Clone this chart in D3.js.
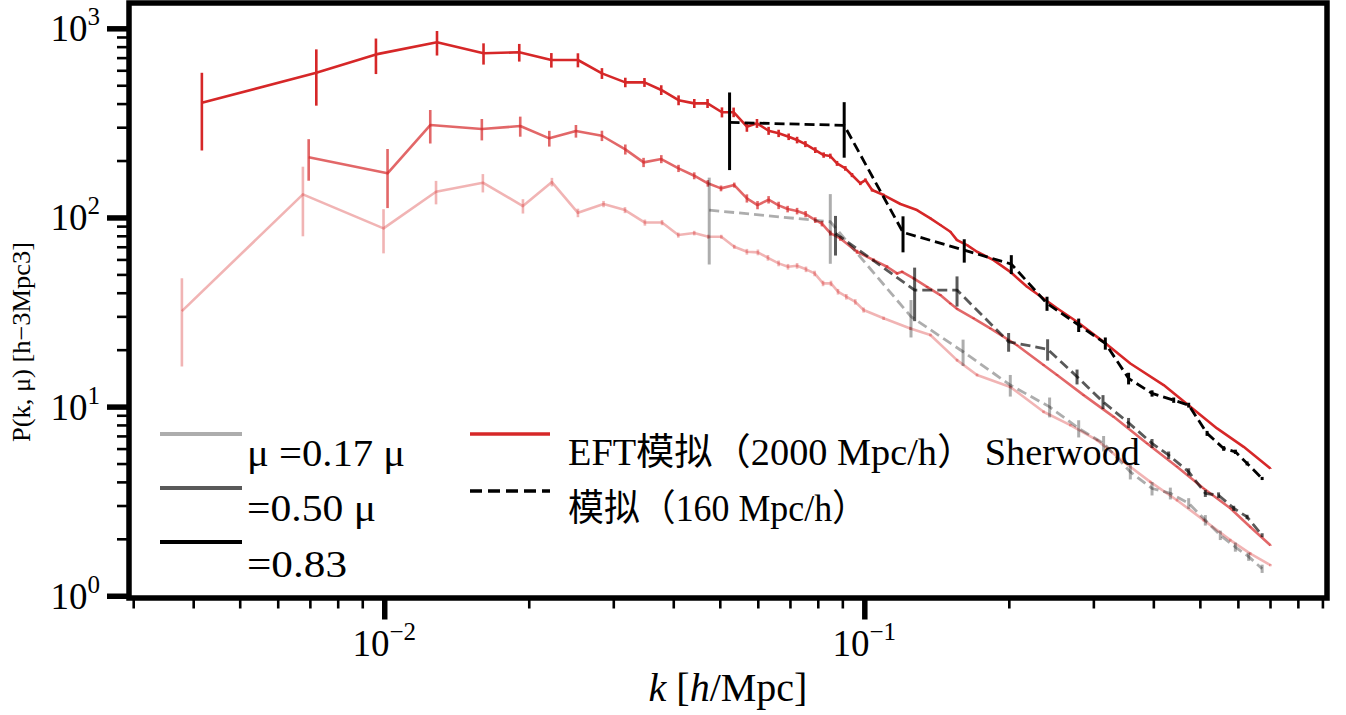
<!DOCTYPE html>
<html><head><meta charset="utf-8">
<script src="https://cdn.jsdelivr.net/npm/d3@7"></script>
<style>
body{margin:0;background:#fff}
svg{display:block}
text{font-family:"Liberation Serif","Times New Roman","Noto Sans CJK SC",serif;fill:#000}
</style>
</head><body><svg id="c" width="1346" height="715"></svg>
<script>
// ---------- DATA ----------
// Sherwood / EFT simulation (2000 Mpc/h), three mu bins
const sherK_mu083 = [0.00417,0.00722,0.00961,0.01288,0.01610,0.01911,0.02229,0.02532,0.02841,0.03178,0.03484,0.03776,0.04103,0.04424,0.04715,0.05052,0.05343,0.05694,0.05976,0.06319,0.06630,0.06957,0.07244,0.07539,0.07906,0.08228,0.08495,0.08773,0.09129,0.09427,0.09810,0.1005,0.1038,0.1097,0.1189,0.1287,0.1373,0.1440,0.1511,0.1560,0.1637,0.1717,0.1859,0.2014,0.2183,0.2362,0.2520,0.2774,0.3151,0.3582,0.4203,0.4777,0.5430,0.6169,0.7013];
const sherP_mu083 = [404,582,728,843,738,747,680,680,578,518,518,472,417,401,401,360,360,301.8,314.6,287.4,278.5,267.2,256.7,244.4,227.2,213.8,211.2,193.2,181.8,167.6,151.5,157.7,139.6,131.4,117.8,109.4,98.9,91.2,84.0,75.9,71.4,65.9,59.5,51.6,43.0,37.3,33.1,28.1,22.0,16.9,13.0,9.97,7.67,6.13,4.71];
const sherE_mu083 = [178,192,155,125,95,80,60,58,38,30,28,28,25,22,22,22,21,18,17,14,12.5,10.7,10.3,9,8,7,6.3,5.8,5.1,4.2,3.3,3.2,2.5,2,1.4,1.1,0.9,0.8,0.7,0.6,0.5,0.45,0.4,0.33,0.27,0.22,0.19,0.15,0.11,0.08,0.06,0.045,0.034,0.026,0.02];

const sherK_mu050 = [0.00696,0.01016,0.01247,0.01597,0.01920,0.02207,0.02508,0.02841,0.03178,0.03469,0.03777,0.04102,0.04423,0.04721,0.05029,0.05359,0.05694,0.05992,0.06319,0.0663,0.06923,0.07244,0.07546,0.07906,0.08161,0.08495,0.08913,0.09656,0.1046,0.1115,0.1170,0.1199,0.1267,0.1351,0.1440,0.1511,0.1560,0.1689,0.1830,0.2080,0.2362,0.2520,0.2863,0.3307,0.3882,0.4481,0.5093,0.5786,0.6369,0.7013];
const sherP_mu050 = [207.9,171.1,308,293.5,304.3,262.0,286.3,270.4,229.1,195.6,203.6,181.8,166.2,151.5,142.5,148.4,126.2,116.3,124.1,115.9,110.8,108.1,104.2,96.9,92.8,82.7,77.5,65.9,59.5,54.9,50.6,51.6,47.6,43.0,38.9,35.1,32.9,29.3,25.9,21.1,16.6,14.7,11.5,8.83,6.39,4.81,3.69,2.90,2.31,1.85];
const sherE_mu050 = [51.5,59,62,38,37,25,22,17,14,11,10,8,7,6,5,4.5,6.3,5.8,5.6,5.2,4.4,4.3,4,3.4,3.1,2.5,2.2,1.6,1.2,1,0.76,0.67,0.57,0.43,0.35,0.3,0.27,0.23,0.19,0.15,0.11,0.09,0.07,0.05,0.035,0.025,0.02,0.015,0.012,0.01];

const sherK_mu017 = [0.003789,0.006770,0.009966,0.01282,0.01605,0.01945,0.02235,0.02532,0.02863,0.03173,0.03491,0.03790,0.04097,0.04423,0.04732,0.05037,0.05359,0.05694,0.06003,0.06299,0.0663,0.06935,0.07244,0.0756,0.07880,0.08204,0.08523,0.08814,0.09173,0.09577,0.09966,0.1097,0.1247,0.1373,0.1560,0.1717,0.2014,0.2362,0.2686,0.3053,0.3468,0.3941,0.4481,0.5093,0.5786,0.6369,0.7013];
const sherP_mu017 = [32.0,132.5,87.6,136.7,152.6,114.9,153.9,105.8,117.8,109.4,94.0,94.0,80.7,82.7,79.1,79.1,70.0,65.9,65.4,61.2,57.2,54.9,55.5,53.2,50.6,44.8,44.8,40.5,38.1,35.8,32.4,29.3,25.9,23.9,17.6,14.7,12.7,9.39,7.98,6.65,5.11,4.00,3.20,2.51,1.97,1.67,1.45];
const sherE_mu017 = [15.7,53,23,19.4,17,10,8,5.5,4.5,4,3.5,3,2.5,2.3,2,1.9,1.7,2.3,2.3,2.1,2,1.9,1.9,1.8,1.7,1.5,1.5,1.4,1.3,1.2,1.0,0.6,0.5,0.4,0.3,0.25,0.2,0.15,0.12,0.1,0.08,0.06,0.05,0.04,0.03,0.03,0.02];

// small-box simulation (160 Mpc/h), three mu bins
const simK_mu083 = [0.0524,0.0908,0.1204,0.1615,0.2024,0.2402,0.2796,0.3177,0.3552,0.3975,0.4410,0.4739,0.5176,0.5604,0.5929,0.6270,0.6740];
const simP_mu083 = [318,307,83.4,67.2,56.7,35.1,27.0,21.6,14.1,11.74,10.82,10.18,7.22,6.01,5.77,5.01,4.17];
const simE_mu083 = [140,100,18,9.5,6.5,3,2.2,1.6,1.0,0.45,0.35,0.3,0.22,0.17,0.15,0.12,0.08];

const simK_mu050 = [0.0871,0.1273,0.1560,0.1998,0.2409,0.2774,0.3142,0.3552,0.3975,0.4305,0.4739,0.5133,0.5469,0.5881,0.6270,0.6740];
const simP_mu050 = [82.4,41.3,41.3,22.0,20.1,14.4,10.6,8.21,6.39,5.54,4.52,3.48,3.40,2.90,2.61,2.09];
const simE_mu050 = [19.5,13,7.5,2.5,2.6,1.3,0.9,0.5,0.35,0.25,0.2,0.15,0.12,0.09,0.07,0.05];

const simK_mu017 = [0.04753,0.08495,0.1251,0.1606,0.2014,0.2432,0.2796,0.3151,0.3582,0.3975,0.4340,0.4739,0.5133,0.5515,0.5928,0.6318,0.6740];
const simP_mu017 = [109.4,94.9,29.9,19.5,13.0,9.97,7.67,6.39,4.52,3.69,3.48,3.08,2.51,2.09,1.81,1.61,1.39];
const simE_mu017 = [53,38,6.7,3.1,1.7,1.2,0.8,0.6,0.4,0.3,0.25,0.2,0.16,0.12,0.1,0.08,0.07];

// labels and ticks
const muLegendLabels = ["μ =0.17 μ", "=0.50 μ", "=0.83"];
const sourceLegendLabels = ["EFT模拟（2000 Mpc/h） Sherwood", "模拟（160 Mpc/h）"];
const xMajorTicks = [0.01, 0.1];
const xMajorExp = ["−2", "−1"];
const xMinorTicks = [0.003,0.004,0.005,0.006,0.007,0.008,0.009,0.02,0.03,0.04,0.05,0.06,0.07,0.08,0.09,0.2,0.3,0.4,0.5,0.6,0.7,0.8,0.9];
const yMajorTicks = [1, 10, 100, 1000];
const yMajorExp = ["0", "1", "2", "3"];
const yMinorTicks = [2,3,4,5,6,7,8,9,20,30,40,50,60,70,80,90,200,300,400,500,600,700,800,900];
const yLabel = "P(k, μ) [h−3Mpc3]";

// ---------- CHART ----------
const svg = d3.select("#c");
const M = {l:129, t:3}, W = 1198, H = 595;
const x = d3.scaleLog().domain([0.00294, 0.92]).range([0, W]);
const y = d3.scaleLog().domain([0.973, 1361]).range([H, 0]);
const g = svg.append("g").attr("transform", `translate(${M.l},${M.t})`);

g.append("clipPath").attr("id","clip").append("rect").attr("width",W).attr("height",H);
const plot = g.append("g").attr("clip-path","url(#clip)");

const RED = "#d62728";
function series(K, P, E, color, op, dashed, lw, ew) {
  const data = K.map((k,i)=>({k, p:P[i], e:E[i]}));
  const s = plot.append("g");
  s.append("path").datum(data)
    .attr("fill","none").attr("stroke",color).attr("stroke-opacity",op)
    .attr("stroke-width",lw).attr("stroke-linejoin","round")
    .attr("stroke-dasharray", dashed ? "10,5" : null)
    .attr("d", d3.line().x(d=>x(d.k)).y(d=>y(d.p)));
  s.selectAll("line").data(data).join("line")
    .attr("x1",d=>x(d.k)).attr("x2",d=>x(d.k))
    .attr("y1",d=>y(Math.max(d.p-d.e,1e-3))).attr("y2",d=>y(d.p+d.e))
    .attr("stroke",color).attr("stroke-opacity",op).attr("stroke-width",ew);
}
series(sherK_mu017, sherP_mu017, sherE_mu017, RED, 0.35, false, 2.6, 2.6);
series(sherK_mu050, sherP_mu050, sherE_mu050, RED, 0.7, false, 2.6, 2.6);
series(sherK_mu083, sherP_mu083, sherE_mu083, RED, 1, false, 2.6, 2.6);
series(simK_mu017, simP_mu017, simE_mu017, "#000", 0.32, true, 2.8, 3);
series(simK_mu050, simP_mu050, simE_mu050, "#000", 0.65, true, 2.8, 3);
series(simK_mu083, simP_mu083, simE_mu083, "#000", 1, true, 2.8, 3);

// axes
function styleAxis(sel, w) { sel.select(".domain").remove(); sel.selectAll("line").attr("stroke","#000").attr("stroke-width",w); }
g.append("g").attr("transform",`translate(0,${H})`)
  .call(d3.axisBottom(x).tickValues(xMinorTicks).tickSize(10.5).tickFormat(""))
  .call(s=>styleAxis(s,2.6));
g.append("g").attr("transform",`translate(0,${H})`)
  .call(d3.axisBottom(x).tickValues(xMajorTicks).tickSize(21.5).tickFormat(""))
  .call(s=>styleAxis(s,5.5));
g.append("g").call(d3.axisLeft(y).tickValues(yMinorTicks).tickSize(12).tickFormat(""))
  .call(s=>styleAxis(s,2.6));
g.append("g").call(d3.axisLeft(y).tickValues(yMajorTicks).tickSize(22).tickFormat(""))
  .call(s=>styleAxis(s,5.5));

// tick labels (10^n)
xMajorTicks.forEach((v,i)=>{
  const t = g.append("text").attr("x", x(v)).attr("y", H+58).attr("text-anchor","middle")
    .attr("font-size",37);
  t.append("tspan").text("10");
  t.append("tspan").attr("dy",-16).attr("font-size",25).text(xMajorExp[i]);
});
yMajorTicks.forEach((v,i)=>{
  const t = g.append("text").attr("x", -29).attr("y", y(v)+13).attr("text-anchor","end")
    .attr("font-size",37);
  t.append("tspan").text("10");
  t.append("tspan").attr("dy",-16).attr("font-size",25).text(yMajorExp[i]);
});

// frame
g.append("rect").attr("width",W).attr("height",H).attr("fill","none")
  .attr("stroke","#000").attr("stroke-width",5.5);

// axis titles
const xl = svg.append("text").attr("x",728).attr("y",701).attr("text-anchor","middle").attr("font-size",40);
xl.append("tspan").attr("font-style","italic").text("k");
xl.append("tspan").text(" [");
xl.append("tspan").attr("font-style","italic").text("h");
xl.append("tspan").text("/Mpc]");
svg.append("text").attr("transform","translate(30,342) rotate(-90)").attr("text-anchor","middle")
  .attr("font-size",26).attr("textLength",200).attr("lengthAdjust","spacingAndGlyphs").text(yLabel);

// legend
const legMuOp = [0.32, 0.65, 1];
const legMuY = [434, 488, 542];
const legMuTextY = [466, 521, 577];
const legMuTextW = [158, 129, 100];
legMuOp.forEach((op,i)=>{
  svg.append("line").attr("x1",160).attr("x2",242).attr("y1",legMuY[i]).attr("y2",legMuY[i])
    .attr("stroke","#000").attr("stroke-opacity",op).attr("stroke-width",4);
  svg.append("text").attr("x",247).attr("y",legMuTextY[i]).attr("font-size",37)
    .attr("textLength",legMuTextW[i]).attr("lengthAdjust","spacingAndGlyphs").text(muLegendLabels[i]);
});
const legSrcY = [434, 491];
const legSrcTextY = [465, 521];
const legSrcTextW = [572, 300];
svg.append("line").attr("x1",470).attr("x2",550).attr("y1",legSrcY[0]).attr("y2",legSrcY[0])
  .attr("stroke",RED).attr("stroke-width",3.5);
svg.append("line").attr("x1",470).attr("x2",550).attr("y1",legSrcY[1]).attr("y2",legSrcY[1])
  .attr("stroke","#000").attr("stroke-width",3.5).attr("stroke-dasharray","12,6");
sourceLegendLabels.forEach((s,i)=>{
  svg.append("text").attr("x",568).attr("y",legSrcTextY[i]).attr("font-size",37)
    .attr("textLength",legSrcTextW[i]).attr("lengthAdjust","spacingAndGlyphs").text(s);
});
</script></body></html>
